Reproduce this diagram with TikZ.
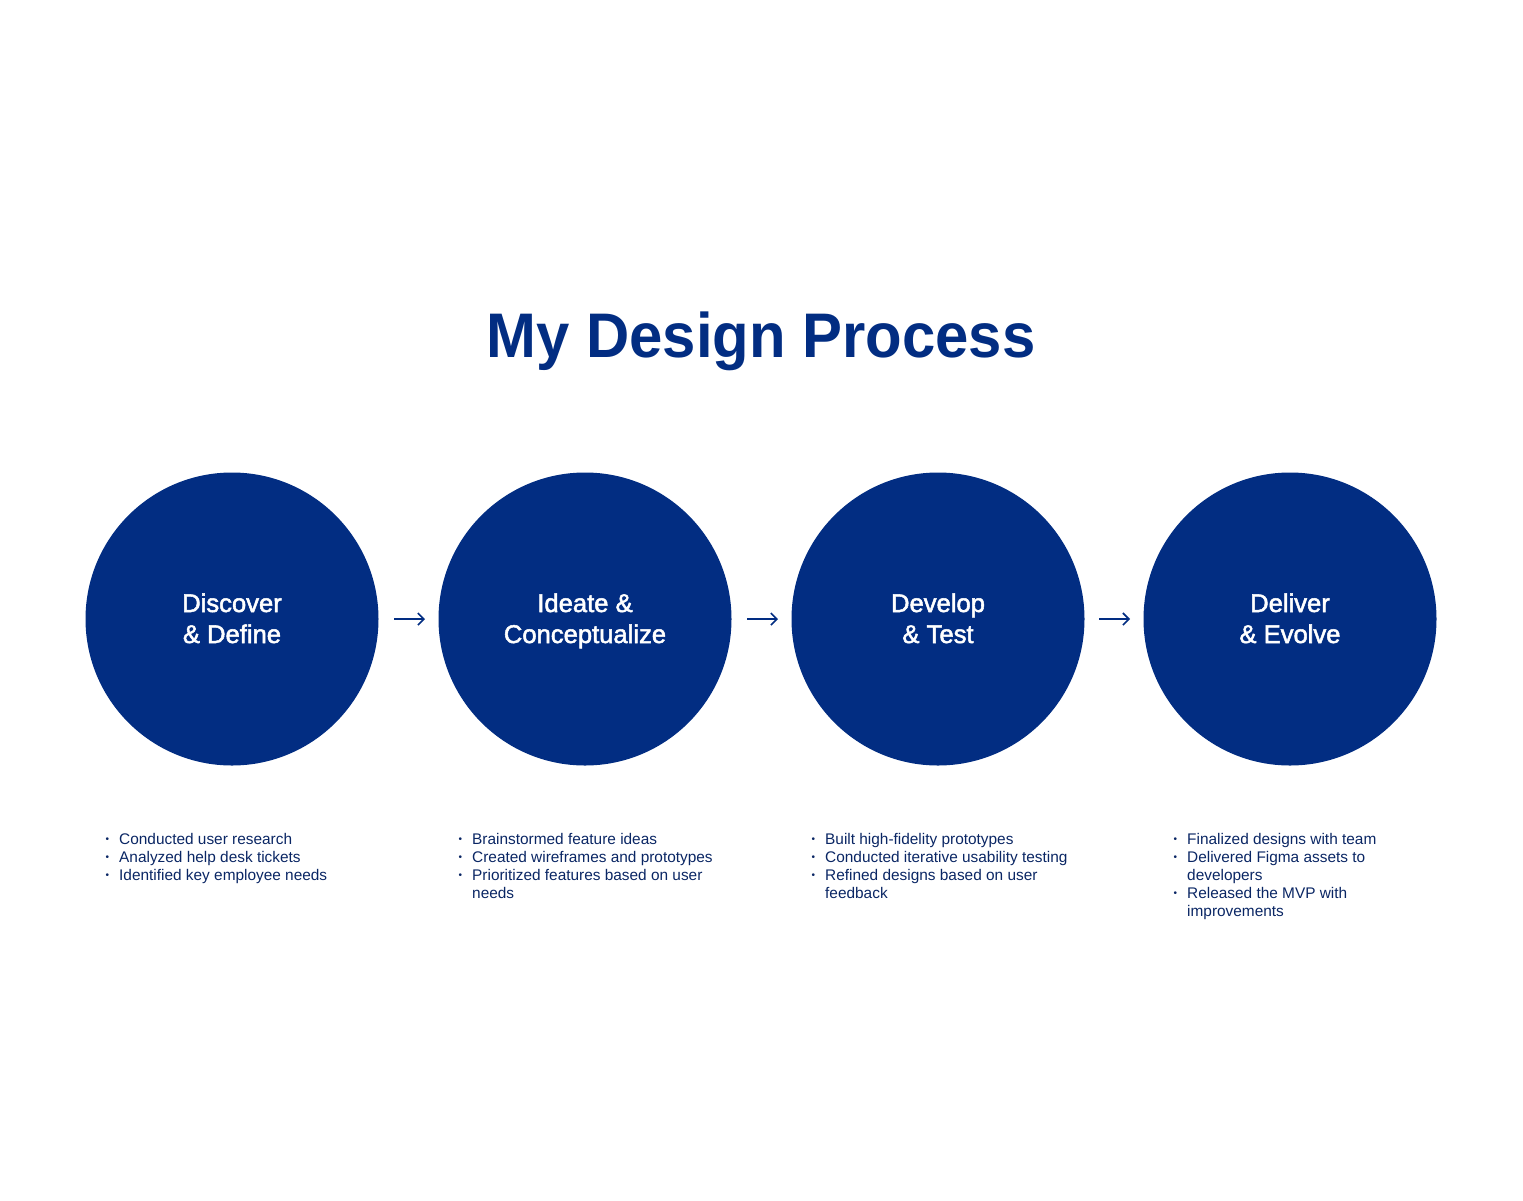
\documentclass[tikz,border=0pt]{standalone}
\usepackage{fontspec}
\setmainfont{Liberation Sans}
\newfontfamily\medfont[FakeBold=2.0]{Liberation Sans}
\newfontfamily\titlefont[FakeStretch=0.95]{Liberation Sans}
\usetikzlibrary{arrows.meta}
\definecolor{navy}{RGB}{2,45,130}
\definecolor{listblue}{RGB}{10,38,100}
\newcommand{\bul}{\llap{\raisebox{1.5pt}{\fontsize{10}{10}\selectfont\textbullet}\hspace{10pt}}}
\tikzset{
  stage/.style={circle, fill=navy, draw=none, minimum size=293pt, inner sep=0pt},
  stagelabel/.style={text=white, align=center, font=\medfont\fontsize{25.6}{31}\selectfont, inner sep=0pt, yshift=-2.3pt},
  bullets/.style={text=listblue, align=left, font=\fontsize{15.4}{18}\selectfont, inner sep=0pt, anchor=north west},
  flow/.style={draw=navy, line width=1.6pt, -{Straight Barb[length=6pt,width=12pt,line width=1.6pt]}}
}
\begin{document}
\begin{tikzpicture}[x=1pt,y=-1pt]
\useasboundingbox (0,0) rectangle (1523,1200);
\node[text=navy, font=\titlefont\bfseries\fontsize{63}{70}\selectfont, anchor=base] (title) at (761,357) {My Design Process};

\node[stage] (c1) at (232,619) {};
\node[stage] (c2) at (585,619) {};
\node[stage] (c3) at (938,619) {};
\node[stage] (c4) at (1290,619) {};

\node[stagelabel] (l1) at (c1) {\strut Discover\\ \strut\& Define};
\node[stagelabel] (l2) at (c2) {\strut Ideate \&\\\strut Conceptualize};
\node[stagelabel] (l3) at (c3) {\strut Develop\\ \strut\& Test};
\node[stagelabel] (l4) at (c4) {\strut Deliver\\ \strut\& Evolve};

\coordinate (a1s) at (394,619); \coordinate (a1e) at (425,619);
\coordinate (a2s) at (747,619); \coordinate (a2e) at (778,619);
\coordinate (a3s) at (1099,619); \coordinate (a3e) at (1130,619);
\draw[flow] (a1s) -- (a1e);
\draw[flow] (a2s) -- (a2e);
\draw[flow] (a3s) -- (a3e);

\node[bullets] (b1) at (119,833) {\bul Conducted user research\\ \bul Analyzed help desk tickets\\ \bul Identified key employee needs};
\node[bullets] (b2) at (472,833) {\bul Brainstormed feature ideas\\ \bul Created wireframes and prototypes\\ \bul Prioritized features based on user\\ needs};
\node[bullets] (b3) at (825,833) {\bul Built high-fidelity prototypes\\ \bul Conducted iterative usability testing\\ \bul Refined designs based on user\\ feedback};
\node[bullets] (b4) at (1187,833) {\bul Finalized designs with team\\ \bul Delivered Figma assets to\\ developers\\ \bul Released the MVP with\\ improvements};
\end{tikzpicture}
\end{document}
